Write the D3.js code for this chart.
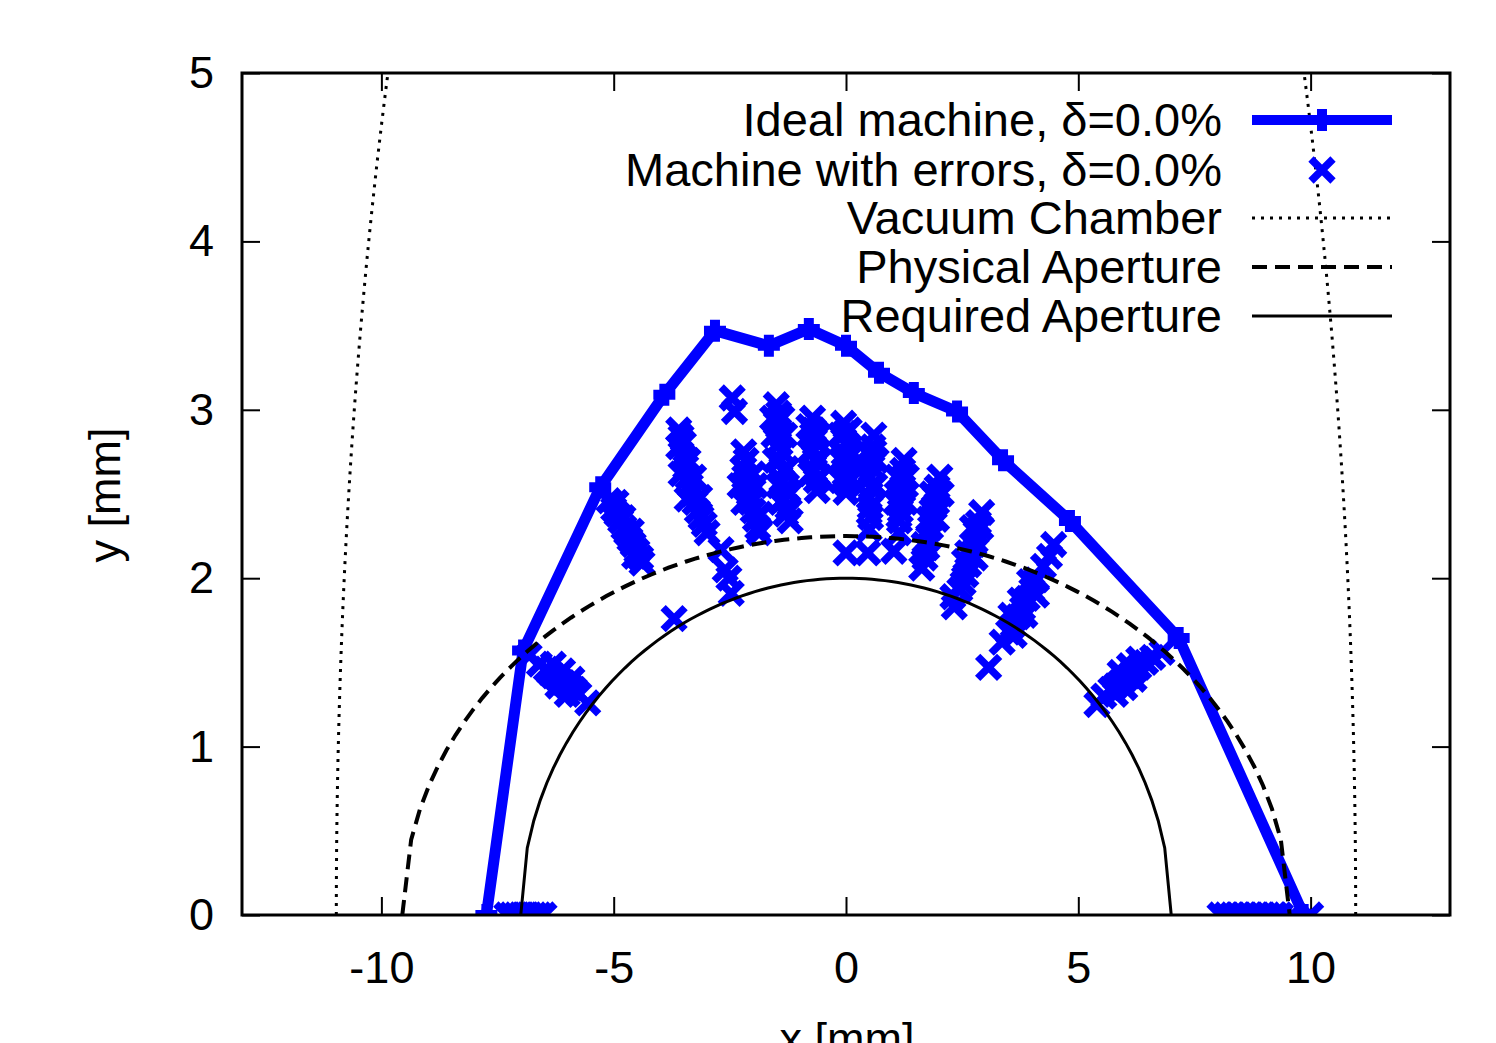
<!DOCTYPE html>
<html>
<head>
<meta charset="utf-8">
<title>Dynamic aperture</title>
<script src="https://d3js.org/d3.v7.min.js"></script>
<style>
  body { margin: 0; background: #fff; }
  svg { display: block; font-family: "Liberation Sans", Arial, sans-serif; }
  .axis .domain { display: none; }
  .axis line { stroke: #000; stroke-width: 2; }
  .axis text { font-size: 45px; fill: #000; font-family: "Liberation Sans", Arial, sans-serif; }
</style>
</head>
<body>
<svg width="1496" height="1043"></svg>
<script>
// ideal machine, delta = 0.0%
var idealX = [-7.74, -6.95, -5.29, -3.91, -2.82, -1.66, -0.80, 0.0, 0.71, 1.46, 2.39, 3.38, 4.82, 7.16, 9.85];
var idealY = [0.0, 1.57, 2.54, 3.09, 3.47, 3.38, 3.48, 3.38, 3.22, 3.10, 2.99, 2.70, 2.34, 1.645, 0.0];

// machine with errors, delta = 0.0%  ([x, y] in mm)
var errPoints = [
  // y = 0, left
  [-7.3,0],[-7.2,0],[-7.1,0],[-7.0,0],[-6.9,0],[-6.8,0],[-6.7,0],[-6.6,0],[-6.5,0],
  // low left
  [-6.82,1.54],[-6.6,1.49],[-6.45,1.46],[-6.38,1.44],[-6.3,1.42],[-6.22,1.41],[-6.15,1.39],
  [-6.08,1.38],[-6.0,1.36],[-5.92,1.35],[-5.85,1.34],[-5.75,1.31],[-5.56,1.26],
  [-6.3,1.49],[-6.1,1.45],[-5.9,1.4],[-6.2,1.36],[-6.0,1.31],
  [-5.1,2.46],[-5.0,2.41],[-4.93,2.38],[-4.85,2.34],[-4.78,2.3],[-4.72,2.27],[-4.65,2.23],
  [-4.58,2.2],[-4.5,2.16],[-4.42,2.12],[-4.39,2.09],
  [-4.95,2.45],[-4.8,2.36],[-4.62,2.28],[-4.55,2.13],
  [-3.7,1.76],
  [-3.6,2.88],[-3.55,2.84],[-3.6,2.78],[-3.5,2.72],[-3.45,2.66],[-3.4,2.6],[-3.35,2.55],
  [-3.3,2.5],[-3.25,2.45],[-3.2,2.4],[-3.12,2.36],[-3.05,2.32],[-2.99,2.27],
  [-3.5,2.8],[-3.4,2.7],[-3.28,2.6],[-3.15,2.48],[-3.55,2.62],[-3.42,2.47],
  [-2.69,2.17],[-2.6,2.05],[-2.52,2.0],[-2.47,1.91],
  [-2.45,3.07],[-2.4,2.99],
  [-2.2,2.75],[-2.15,2.7],[-2.22,2.65],[-2.18,2.6],[-2.12,2.55],[-2.08,2.5],[-2.05,2.45],
  [-2.0,2.4],[-1.85,2.38],[-1.95,2.35],[-1.9,2.3],[-1.87,2.27],
  [-2.28,2.55],[-2.2,2.45],[-1.95,2.55],[-2.0,2.62],
  [-1.5,3.03],[-1.45,2.98],[-1.5,2.92],[-1.42,2.86],[-1.45,2.8],[-1.38,2.75],[-1.42,2.7],
  [-1.35,2.64],[-1.38,2.58],[-1.3,2.53],[-1.33,2.47],[-1.25,2.42],[-1.3,2.38],[-1.2,2.34],
  [-1.58,2.95],[-1.55,2.85],[-1.52,2.7],[-1.45,2.55],[-1.4,2.45],[-1.22,2.5],[-1.28,2.65],
  [-1.32,2.85],[-1.38,2.95],
  [-0.72,2.95],[-0.7,2.88],[-0.68,2.82],[-0.7,2.76],[-0.66,2.7],[-0.68,2.64],[-0.64,2.58],[-0.62,2.52],
  [-0.8,2.9],[-0.78,2.75],[-0.76,2.62],[-0.6,2.85],[-0.58,2.7],[-0.56,2.6],
  [-0.05,2.92],[-0.03,2.86],[0.0,2.8],[-0.04,2.74],[0.0,2.68],[-0.02,2.62],[0.02,2.56],[0.0,2.51],
  [-0.12,2.85],[-0.1,2.7],[-0.1,2.58],[0.07,2.88],[0.08,2.72],[0.08,2.6],
  [0.0,2.15],[0.47,2.15],[1.03,2.16],
  [0.6,2.85],[0.58,2.78],[0.55,2.72],[0.56,2.66],[0.52,2.6],[0.54,2.54],[0.5,2.48],
  [0.52,2.42],[0.53,2.36],[0.5,2.29],
  [0.45,2.75],[0.42,2.6],[0.65,2.7],[0.62,2.55],
  [1.25,2.7],[1.22,2.64],[1.2,2.58],[1.22,2.52],[1.18,2.46],[1.17,2.4],[1.15,2.34],[1.14,2.27],
  [1.1,2.6],[1.08,2.45],[1.3,2.6],[1.28,2.45],
  [2.02,2.6],[1.96,2.54],[1.92,2.48],[1.9,2.42],[1.86,2.36],[1.82,2.3],[1.78,2.24],
  [1.74,2.18],[1.7,2.12],[1.63,2.06],
  [1.85,2.5],[1.78,2.35],[2.05,2.5],[1.95,2.35],[1.68,2.2],
  [2.92,2.39],[2.85,2.33],[2.8,2.27],[2.75,2.2],[2.7,2.14],[2.64,2.08],[2.58,2.02],
  [2.52,1.97],[2.45,1.93],[2.3,1.89],[2.33,1.83],
  [2.72,2.3],[2.62,2.15],[2.55,2.1],[2.9,2.3],[2.78,2.12],
  [4.47,2.2],[4.38,2.13],[4.25,2.07],[4.1,1.99],[4.0,1.93],[3.9,1.88],[3.8,1.82],
  [3.7,1.77],[3.6,1.72],[3.5,1.68],[3.36,1.62],[3.07,1.47],
  [3.95,1.98],[3.75,1.87],[3.55,1.78],[4.1,1.9],[3.85,1.78],[3.62,1.66],
  // low right
  [5.4,1.25],[5.55,1.3],[5.7,1.34],[5.8,1.36],[5.9,1.38],[6.0,1.4],[6.1,1.42],[6.2,1.45],
  [6.3,1.47],[6.45,1.5],[6.6,1.53],[6.8,1.56],
  [5.9,1.44],[6.1,1.48],[6.3,1.52],[5.8,1.31],[6.0,1.35],[6.2,1.4],
  // y = 0, right
  [8.05,0],[8.18,0],[8.31,0],[8.44,0],[8.57,0],[8.7,0],[8.83,0],[8.96,0],[9.09,0],[9.22,0],
  [9.35,0],[9.6,0],[10.0,0]
];

// elliptical boundaries: semi axes (mm)
var boundNames = ["Vacuum Chamber", "Physical Aperture", "Required Aperture"];
var boundA = [10.97, 9.55, 7.0];
var boundB = [11.4, 2.25, 2.0];

var xTicks = [-10, -5, 0, 5, 10];
var yTicks = [0, 1, 2, 3, 4, 5];
var legendLabels = ["Ideal machine, \u03b4=0.0%", "Machine with errors, \u03b4=0.0%",
  "Vacuum Chamber", "Physical Aperture", "Required Aperture"];

var svg = d3.select("svg"),
    plotLeft = 242, plotRight = 1450, plotTop = 73, plotBottom = 915;

svg.append("rect").attr("width", 1496).attr("height", 1043).attr("fill", "#fff");

var x = d3.scaleLinear().domain([-13, 13]).range([plotLeft, plotRight]);
var y = d3.scaleLinear().domain([0, 5]).range([plotBottom, plotTop]);

svg.append("defs").append("clipPath").attr("id", "clip")
  .append("rect").attr("x", plotLeft).attr("y", plotTop)
  .attr("width", plotRight - plotLeft).attr("height", plotBottom - plotTop);

var fmt = function(d) { return String(d); };

// axes, ticks inward on all four sides
svg.append("g").attr("class", "axis")
  .attr("transform", "translate(0," + plotBottom + ")")
  .call(d3.axisBottom(x).tickValues(xTicks).tickSize(-18).tickPadding(36).tickFormat(fmt));
svg.append("g").attr("class", "axis")
  .attr("transform", "translate(0," + plotTop + ")")
  .call(d3.axisTop(x).tickValues(xTicks).tickSize(-18).tickFormat(""));
svg.append("g").attr("class", "axis")
  .attr("transform", "translate(" + plotLeft + ",0)")
  .call(d3.axisLeft(y).tickValues(yTicks).tickSize(-18).tickPadding(28).tickFormat(fmt));
svg.append("g").attr("class", "axis")
  .attr("transform", "translate(" + plotRight + ",0)")
  .call(d3.axisRight(y).tickValues(yTicks).tickSize(-18).tickFormat(""));

var plot = svg.append("g").attr("clip-path", "url(#clip)");

// ideal machine
var ideal = idealX.map(function(d, i) { return [d, idealY[i]]; });
plot.append("path")
  .datum(ideal)
  .attr("fill", "none")
  .attr("stroke", "#0000ff")
  .attr("stroke-width", 11)
  .attr("stroke-linejoin", "miter")
  .attr("d", d3.line().x(function(d) { return x(d[0]); }).y(function(d) { return y(d[1]); }));

function plusPath(s, w) {
  return "M" + (-s) + "," + (-w) + "H" + (-w) + "V" + (-s) + "H" + w + "V" + (-w) + "H" + s +
    "V" + w + "H" + w + "V" + s + "H" + (-w) + "V" + w + "H" + (-s) + "Z";
}
plot.selectAll(".ip").data(ideal).enter().append("path")
  .attr("class", "ip")
  .attr("transform", function(d) { return "translate(" + x(d[0]) + "," + y(d[1]) + ")"; })
  .attr("fill", "#0000ff")
  .attr("d", plusPath(11, 5));

// machine with errors
var crossD = "M-11,-11L11,11M-11,11L11,-11";
plot.selectAll(".ep").data(errPoints).enter().append("path")
  .attr("class", "ep")
  .attr("transform", function(d) { return "translate(" + x(d[0]) + "," + y(d[1]) + ")"; })
  .attr("fill", "none")
  .attr("stroke", "#0000ff")
  .attr("stroke-width", 7.5)
  .attr("d", crossD);

// boundaries
var dashes = ["3,6", "15,8", null];
var widths = [3, 4, 3];
var line = d3.line().x(function(d) { return x(d[0]); }).y(function(d) { return y(d[1]); });
boundA.forEach(function(a, k) {
  var b = boundB[k];
  if (k == 0) {
    // steep wall, sample along y on both sides
    var ys = d3.range(0, 5.01, 0.1);
    [-1, 1].forEach(function(s) {
      var p = ys.map(function(v) { return [s * a * Math.sqrt(1 - v * v / (b * b)), v]; });
      plot.append("path").datum(p)
        .attr("fill", "none").attr("stroke", "#000")
        .attr("stroke-width", widths[k]).attr("stroke-dasharray", dashes[k])
        .attr("d", line);
    });
    return;
  }
  var n = 100, pts = [];
  for (var i = 0; i <= n; i++) {
    var xv = -a + 2 * a * i / n;
    var r = 1 - (xv * xv) / (a * a);
    pts.push([xv, b * Math.sqrt(Math.max(r, 0))]);
  }
  plot.append("path").datum(pts)
    .attr("fill", "none").attr("stroke", "#000")
    .attr("stroke-width", widths[k]).attr("stroke-dasharray", dashes[k])
    .attr("d", line);
});

// border
svg.append("rect")
  .attr("x", plotLeft).attr("y", plotTop)
  .attr("width", plotRight - plotLeft).attr("height", plotBottom - plotTop)
  .attr("fill", "none").attr("stroke", "#000").attr("stroke-width", 3);

// legend
var lg = svg.append("g").attr("font-size", 47);
var rowY = [120, 170, 218, 267, 316];
legendLabels.forEach(function(t, i) {
  lg.append("text")
    .attr("x", 1222).attr("y", rowY[i]).attr("dy", "0.35em")
    .attr("text-anchor", "end").text(t);
  if (i == 0) {
    lg.append("line").attr("x1", 1252).attr("x2", 1392).attr("y1", rowY[i]).attr("y2", rowY[i])
      .attr("stroke", "#0000ff").attr("stroke-width", 10);
    lg.append("path").attr("transform", "translate(1322," + rowY[i] + ")")
      .attr("fill", "#0000ff").attr("d", plusPath(11, 5));
  } else if (i == 1) {
    lg.append("path").attr("transform", "translate(1322," + rowY[i] + ")")
      .attr("fill", "none").attr("stroke", "#0000ff").attr("stroke-width", 7.5).attr("d", crossD);
  } else {
    lg.append("line").attr("x1", 1252).attr("x2", 1392).attr("y1", rowY[i]).attr("y2", rowY[i])
      .attr("stroke", "#000").attr("stroke-width", widths[i - 2])
      .attr("stroke-dasharray", dashes[i - 2]);
  }
});

// axis titles
svg.append("text")
  .attr("x", 847).attr("y", 1054)
  .attr("text-anchor", "middle").attr("font-size", 45)
  .text("x [mm]");
svg.append("text")
  .attr("transform", "translate(120,495) rotate(-90)")
  .attr("text-anchor", "middle").attr("font-size", 45)
  .text("y [mm]");
</script>
</body>
</html>
